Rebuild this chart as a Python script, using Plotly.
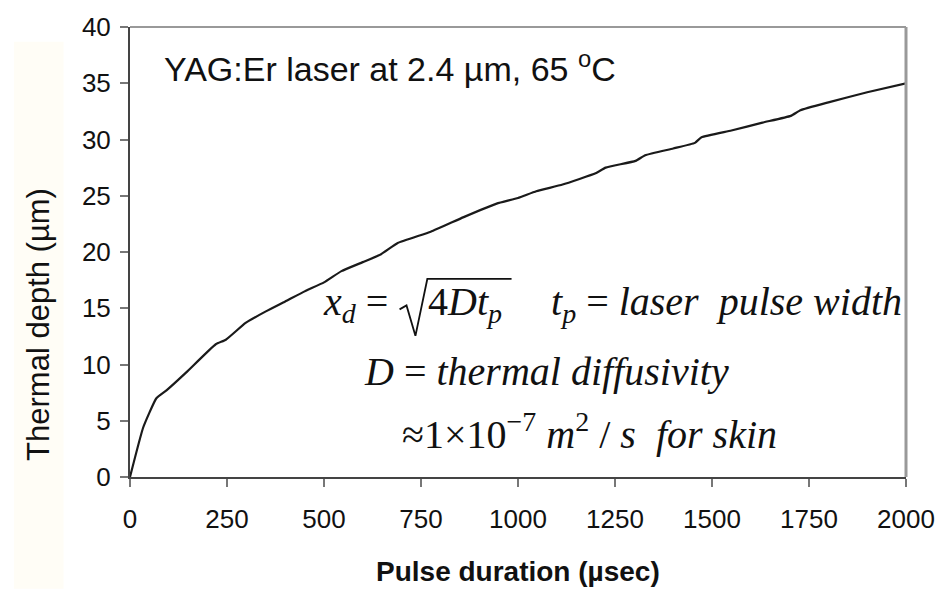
import plotly.graph_objects as go

# ---- data ----
pulse_us = [0, 34, 68, 94, 145, 221, 247, 298, 349, 400, 450, 500, 545, 600, 647, 690,
            775, 860, 945, 1000, 1047, 1115, 1200, 1226, 1303, 1328, 1400, 1456, 1473,
            1550, 1630, 1703, 1728, 1800, 1900, 2000]
depth_um = [0, 4.4, 7.0, 7.7, 9.3, 11.8, 12.2, 13.7, 14.7, 15.6, 16.5, 17.3, 18.3, 19.1,
            19.8, 20.8, 21.8, 23.1, 24.3, 24.8, 25.4, 26.0, 27.0, 27.5, 28.1, 28.6, 29.2,
            29.7, 30.2, 30.8, 31.5, 32.1, 32.6, 33.3, 34.2, 35.0]
x_ticks = [0, 250, 500, 750, 1000, 1250, 1500, 1750, 2000]
y_ticks = [0, 5, 10, 15, 20, 25, 30, 35, 40]

W, H = 947, 591
ML, MR, MT, MB = 130, 34, 18, 114
PW, PH = W - ML - MR, H - MT - MB


def px(xp):
    return (xp - ML) / PW


def py(yp):
    return (H - MB - yp) / PH


SANS = "Liberation Sans, Arial, sans-serif"
SERIF = "Liberation Serif, Times New Roman, serif"

fig = go.Figure()
fig.add_trace(go.Scatter(x=pulse_us, y=depth_um, mode="lines",
                         line=dict(color="#1a1a1a", width=2.2, shape="spline", smoothing=0.4),
                         showlegend=False, hoverinfo="skip"))

axis_common = dict(showline=True, linecolor="#444", linewidth=2, ticks="outside",
                   ticklen=8, tickwidth=2, tickcolor="#777", showgrid=False,
                   zeroline=False, tickfont=dict(family=SANS, size=26, color="#111"))
fig.update_xaxes(range=[0, 2000], tickvals=x_ticks, ticktext=[str(v) for v in x_ticks],
                 ticklabelstandoff=10, **axis_common)
fig.update_yaxes(range=[0, 40], tickvals=y_ticks, ticktext=[str(v) for v in y_ticks],
                 ticklabelstandoff=4, **axis_common)

shapes = [
    # faint cream band at left
    dict(type="rect", xref="paper", yref="paper", x0=px(13), x1=px(63), y0=py(591), y1=py(33),
         fillcolor="#fffdf6", line=dict(width=0), layer="below"),
    # top and right borders
    dict(type="line", xref="paper", yref="paper", x0=0, x1=1, y0=1, y1=1,
         line=dict(color="#999", width=2)),
    dict(type="line", xref="paper", yref="paper", x0=1, x1=1, y0=0, y1=1,
         line=dict(color="#999", width=3)),
    # radical sign
    dict(type="path", xref="paper", yref="paper",
         path=f"M {px(402)},{py(306)} L {px(409)},{py(302)} L {px(418)},{py(333)} "
              f"L {px(430)},{py(275)} L {px(515)},{py(275)}",
         line=dict(color="#111", width=1.8)),
]

EQ = 40
eq_font = dict(family=SERIF, size=EQ, color="#111")
ann = [
    dict(text="YAG:Er laser at 2.4 µm, 65 <sup>o</sup>C", x=px(162), y=py(58),
         xanchor="left", yanchor="middle", font=dict(family=SANS, size=34, color="#111")),
    dict(text="<i>x</i><sub><i>d</i></sub> =", x=px(323), y=py(301),
         xanchor="left", yanchor="middle", font=eq_font),
    dict(text="4<i>Dt</i><sub><i>p</i></sub>", x=px(429), y=py(301),
         xanchor="left", yanchor="middle", font=eq_font),
    dict(text="<i>t</i><sub><i>p</i></sub> = <i>laser  pulse width</i>", x=px(553), y=py(301),
         xanchor="left", yanchor="middle", font=eq_font),
    dict(text="<i>D</i> = <i>thermal diffusivity</i>", x=px(364), y=py(369),
         xanchor="left", yanchor="middle", font=eq_font),
    dict(text="≈1×10<sup>−7</sup> <i>m</i><sup>2</sup> / <i>s  for skin</i>", x=px(402), y=py(431),
         xanchor="left", yanchor="middle", font=eq_font),
    dict(text="<b>Pulse duration (µsec)</b>", x=px(522), y=py(573),
         xanchor="center", yanchor="middle", font=dict(family=SANS, size=28, color="#111")),
    dict(text="Thermal depth (µm)", x=px(37), y=py(321), textangle=-90,
         xanchor="center", yanchor="middle", font=dict(family=SANS, size=31, color="#111")),
]
for a in ann:
    a.update(xref="paper", yref="paper", showarrow=False)

fig.update_layout(width=W, height=H, margin=dict(l=ML, r=MR, t=MT, b=MB, pad=0),
                  paper_bgcolor="white", plot_bgcolor="white",
                  shapes=shapes, annotations=ann, showlegend=False)

fig.write_html("out.html")
